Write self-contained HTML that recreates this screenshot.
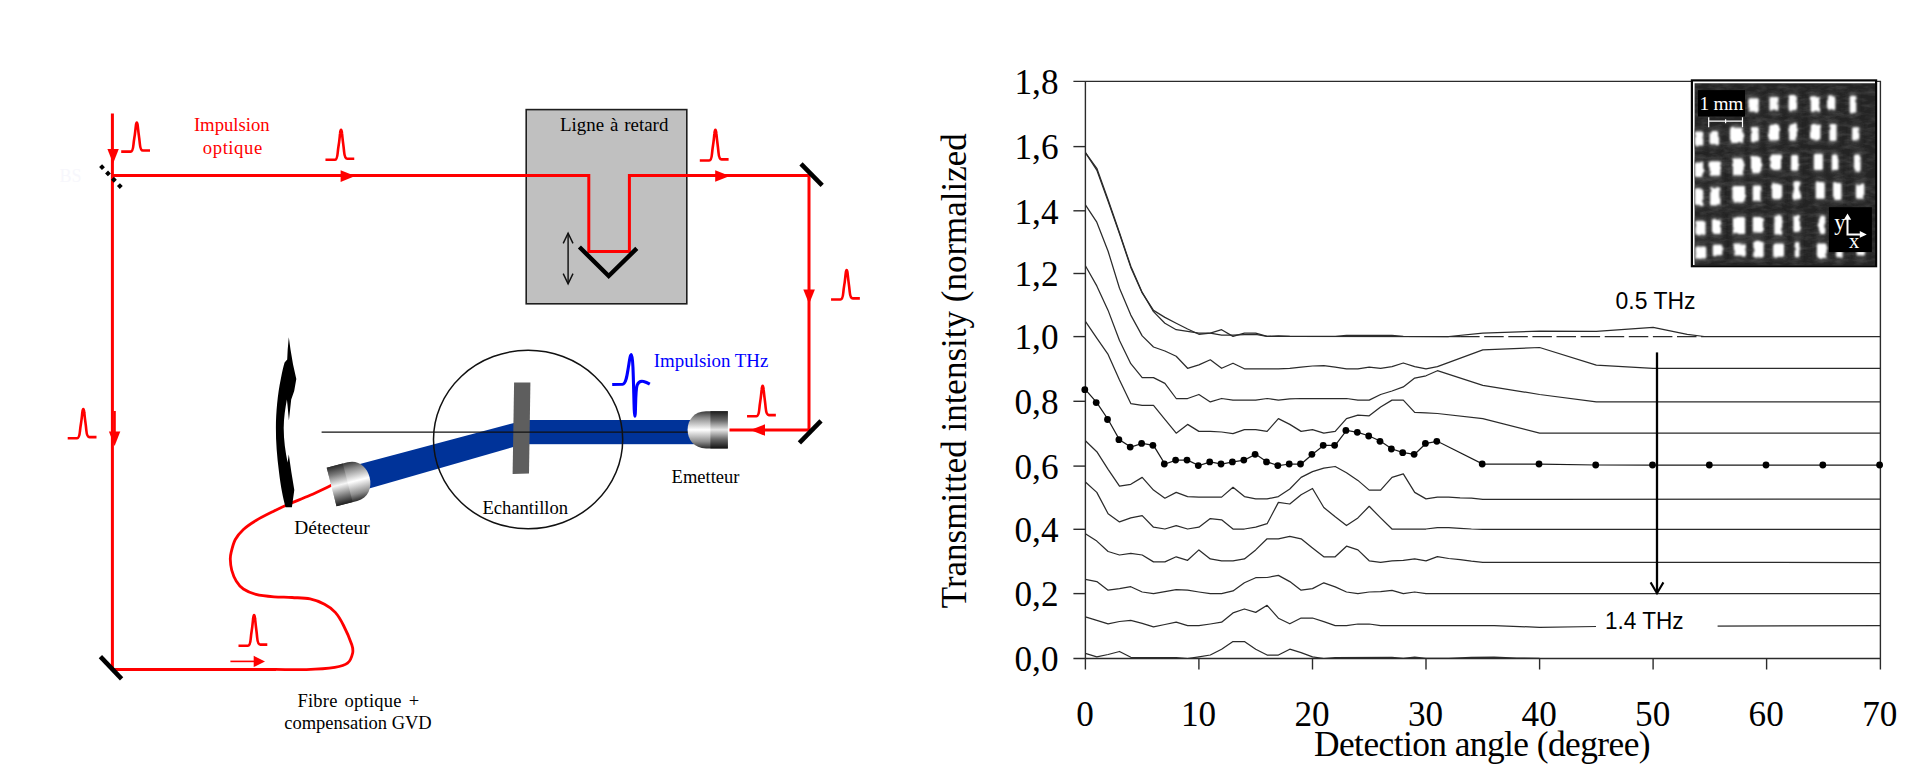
<!DOCTYPE html>
<html><head><meta charset="utf-8"><title>figure</title>
<style>
html,body{margin:0;padding:0;background:#fff;}
body{width:1920px;height:777px;overflow:hidden;}
svg{display:block;}
.ser{font-family:"Liberation Serif",serif;}
.sans{font-family:"Liberation Sans",sans-serif;}
</style></head><body>
<svg width="1920" height="777" viewBox="0 0 1920 777">
<rect width="1920" height="777" fill="#ffffff"/>
<!-- ================= LEFT DIAGRAM ================= -->
<defs>
  <linearGradient id="cylA" x1="0" y1="0" x2="0" y2="1">
    <stop offset="0" stop-color="#3a3a3a"/><stop offset="0.18" stop-color="#8c8c8c"/>
    <stop offset="0.5" stop-color="#ffffff"/><stop offset="0.82" stop-color="#8c8c8c"/>
    <stop offset="1" stop-color="#2e2e2e"/>
  </linearGradient>
  <linearGradient id="cylB" x1="0" y1="0" x2="0" y2="1">
    <stop offset="0" stop-color="#1c1c1c"/><stop offset="0.25" stop-color="#6a6a6a"/>
    <stop offset="0.5" stop-color="#e6e6e6"/><stop offset="0.75" stop-color="#6a6a6a"/>
    <stop offset="1" stop-color="#141414"/>
  </linearGradient>
  <linearGradient id="cylC" x1="0" y1="0" x2="0" y2="1">
    <stop offset="0" stop-color="#2a2a2a"/><stop offset="0.22" stop-color="#7a7a7a"/>
    <stop offset="0.5" stop-color="#f6f6f6"/><stop offset="0.78" stop-color="#7a7a7a"/>
    <stop offset="1" stop-color="#1e1e1e"/>
  </linearGradient>
  <filter id="soft" x="-5%" y="-5%" width="110%" height="110%"><feGaussianBlur stdDeviation="0.45"/></filter>
</defs>

<g>
<!-- delay line box -->
<rect x="526.2" y="109.6" width="160.6" height="194.2" fill="#c0c0c0" stroke="#1e1e1e" stroke-width="1.6"/>
<text x="560" y="130.9" class="ser" font-size="18.9" word-spacing="1.2">Ligne à retard</text>

<!-- red optical path -->
<g fill="none" stroke="#ff0000" stroke-width="3" stroke-linejoin="miter">
  <path d="M112.4,113.5 L112.4,669.4 L276,669.4"/>
  <path d="M112.4,175.6 L588.8,175.6 L588.8,251.4 L629.4,251.4 L629.4,175.6 L809,175.6 L809,430 L729.5,430"/>
  <path d="M333.0,484.6 C332.4,484.9 333.2,484.5 329.4,486.3 C325.6,488.1 316.9,492.3 310.1,495.3 C303.3,498.3 294.5,501.7 288.5,504.3 C282.5,506.9 279.5,508.3 274.1,511.0 C268.7,513.7 261.1,517.4 256.0,520.5 C250.9,523.6 246.8,526.3 243.4,529.5 C240.0,532.7 237.3,535.7 235.3,539.5 C233.3,543.3 232.0,548.8 231.2,552.1 C230.4,555.4 230.2,556.3 230.3,559.3 C230.4,562.3 230.7,566.5 231.7,570.1 C232.7,573.7 234.2,577.8 236.2,580.9 C238.1,584.0 240.1,586.8 243.4,589.0 C246.7,591.2 250.9,593.1 256.0,594.4 C261.1,595.7 268.1,596.3 274.1,596.8 C280.1,597.3 286.1,597.1 292.1,597.5 C298.1,597.9 304.7,597.8 310.1,598.9 C315.5,600.0 320.3,602.0 324.5,604.3 C328.7,606.5 332.2,608.9 335.3,612.4 C338.4,615.9 340.6,619.6 343.3,625.0 C346.1,630.4 350.2,640.1 351.8,644.8 C353.4,649.5 353.3,650.2 352.6,653.3 C351.9,656.4 350.5,660.9 347.5,663.2 C344.5,665.6 341.6,666.3 334.8,667.4 C328.0,668.5 316.4,669.3 306.5,669.6 C296.6,669.9 283.1,669.4 275.4,669.4 C267.6,669.4 262.6,669.4 260.0,669.4" stroke-width="2.8"/>
</g>
<!-- red arrow heads -->
<g fill="#ff0000">
  <path d="M107.4,148.9 L118.8,148.9 L113.1,163.5 Z"/>
  <path d="M340.6,170.3 L355.2,176.1 L340.6,181.9 Z"/>
  <path d="M715.2,170.2 L729.8,175.9 L715.2,181.7 Z"/>
  <path d="M803.3,289.5 L814.9,289.5 L809.1,304.1 Z"/>
  <path d="M765,424.3 L750.4,430 L765,435.8 Z"/>
  <path d="M108.9,431.4 L120.3,431.4 L114.6,446 Z"/>
  <rect x="113.5" y="411" width="2.3" height="21"/>
  <path d="M253.7,655.8 L265,661.4 L253.7,667.1 Z"/>
  <rect x="230.4" y="660.6" width="24" height="1.6"/>
</g>
<!-- red pulses -->
<g fill="none" stroke="#ff0000" stroke-width="2.6" stroke-linecap="butt" stroke-linejoin="round">
  <path d="M121.20,151.60 L130.60,151.60 C132.50,151.60 133.10,148.70 133.50,144.35 C133.90,140.00 134.50,137.10 134.90,134.20 C135.30,131.30 135.50,128.98 135.80,126.37 C136.00,124.05 136.30,122.60 136.80,122.60 C137.30,122.60 137.60,124.05 137.80,126.37 C138.10,128.98 138.30,131.30 138.70,134.20 C139.10,137.10 139.50,140.00 139.85,143.77 C140.20,147.83 141.00,150.50 143.00,150.50 L150.00,150.50"/>
  <path d="M325.45,159.80 L334.85,159.80 C336.75,159.80 337.35,156.80 337.75,152.30 C338.15,147.80 338.75,144.80 339.15,141.80 C339.55,138.80 339.75,136.40 340.05,133.70 C340.25,131.30 340.55,129.80 341.05,129.80 C341.55,129.80 341.85,131.30 342.05,133.70 C342.35,136.40 342.55,138.80 342.95,141.80 C343.35,144.80 343.75,147.80 344.10,151.70 C344.45,155.90 345.25,158.70 347.25,158.70 L354.25,158.70"/>
  <path d="M699.80,160.50 L709.20,160.50 C711.10,160.50 711.70,157.42 712.10,152.80 C712.50,148.18 713.10,145.10 713.50,142.02 C713.90,138.94 714.10,136.48 714.40,133.70 C714.60,131.24 714.90,129.70 715.40,129.70 C715.90,129.70 716.20,131.24 716.40,133.70 C716.70,136.48 716.90,138.94 717.30,142.02 C717.70,145.10 718.10,148.18 718.45,152.18 C718.80,156.50 719.60,159.40 721.60,159.40 L728.60,159.40"/>
  <path d="M831.05,299.50 L840.45,299.50 C842.35,299.50 842.95,296.55 843.35,292.12 C843.75,287.70 844.35,284.75 844.75,281.80 C845.15,278.85 845.35,276.49 845.65,273.83 C845.85,271.48 846.15,270.00 846.65,270.00 C847.15,270.00 847.45,271.48 847.65,273.83 C847.95,276.49 848.15,278.85 848.55,281.80 C848.95,284.75 849.35,287.70 849.70,291.54 C850.05,295.67 850.85,298.40 852.85,298.40 L859.85,298.40"/>
  <path d="M747.05,416.20 L756.45,416.20 C758.35,416.20 758.95,413.15 759.35,408.57 C759.75,404.00 760.35,400.95 760.75,397.90 C761.15,394.85 761.35,392.41 761.65,389.66 C761.85,387.22 762.15,385.70 762.65,385.70 C763.15,385.70 763.45,387.22 763.65,389.66 C763.95,392.41 764.15,394.85 764.55,397.90 C764.95,400.95 765.35,404.00 765.70,407.96 C766.05,412.24 766.85,415.10 768.85,415.10 L775.85,415.10"/>
  <path d="M67.70,438.20 L77.10,438.20 C79.00,438.20 79.60,435.27 80.00,430.89 C80.40,426.50 81.00,423.57 81.40,420.65 C81.80,417.72 82.00,415.38 82.30,412.75 C82.50,410.41 82.80,408.95 83.30,408.95 C83.80,408.95 84.10,410.41 84.30,412.75 C84.60,415.38 84.80,417.72 85.20,420.65 C85.60,423.57 86.00,426.50 86.35,430.30 C86.70,434.40 87.50,437.10 89.50,437.10 L96.50,437.10"/>
  <path d="M238.50,645.70 L247.90,645.70 C249.80,645.70 250.40,642.63 250.80,638.03 C251.20,633.42 251.80,630.35 252.20,627.28 C252.60,624.21 252.80,621.75 253.10,618.99 C253.30,616.54 253.60,615.00 254.10,615.00 C254.60,615.00 254.90,616.54 255.10,618.99 C255.40,621.75 255.60,624.21 256.00,627.28 C256.40,630.35 256.80,633.42 257.15,637.41 C257.50,641.71 258.30,644.60 260.30,644.60 L267.30,644.60"/>
</g>

<!-- mirrors -->
<g stroke="#000" stroke-width="4.6" fill="none">
  <path d="M801,163.9 L822.2,185.4"/>
  <path d="M799.4,442.8 L821,420.8"/>
  <path d="M100.4,656.6 L121.6,678.8"/>
  <path d="M579.4,247 L608.7,276 L636.8,248.4" stroke-width="4.4" stroke-linejoin="miter"/>
</g>
<!-- beam splitter (dotted) -->
<path d="M100.6,165.7 L121.6,187.9" stroke="#000" stroke-width="4.1" stroke-dasharray="4.1 4.55" fill="none"/>
<text x="59.5" y="181.8" class="ser" font-size="18" fill="#f7f7fc">BS</text>

<!-- delay double arrow -->
<g stroke="#111" stroke-width="1.45" fill="none">
  <path d="M568.1,233.4 L568.1,283.6"/>
  <path d="M563.2,243.4 L568.1,233.2 L573,243.4"/>
  <path d="M563.2,273.6 L568.1,283.8 L573,273.6"/>
</g>

<!-- THz beam -->
<g fill="#003399">
  <rect x="528" y="420" width="166" height="24.2"/>
  <path d="M516,422.4 L516,446.2 L364,490 L358,464.4 Z"/>
</g>
<!-- sample -->
<path d="M514.1,382.6 L530.4,382.6 L529,473.4 L512.6,474 Z" fill="#5e5e5e"/>
<!-- optical axis line -->
<path d="M321.6,432.2 L688,432.2" stroke="#111" stroke-width="1.3"/>
<!-- circle -->
<ellipse cx="528.1" cy="439.5" rx="94.6" ry="89.2" fill="none" stroke="#111" stroke-width="1.5"/>
<text x="482.4" y="513.8" class="ser" font-size="18.6">Echantillon</text>

<!-- emitter -->
<path d="M727.8,411.2 L706,411.2 C694,411.2 687.6,420 687.6,429.8 C687.6,439.6 694,448.4 706,448.4 L727.8,448.4 Z" fill="url(#cylA)"/>
<rect x="710.4" y="411.2" width="17.4" height="37.2" fill="url(#cylB)"/>
<text x="671.6" y="482.7" class="ser" font-size="18.5">Emetteur</text>

<!-- detector (rotated bullet) -->
<g transform="translate(351.4,481.9) rotate(-14.3)">
  <path d="M-20.4,-19.9 L1,-19.9 C12.4,-19.9 18.8,-10.6 18.8,0 C18.8,10.6 12.4,19.9 1,19.9 L-20.4,19.9 Z" fill="url(#cylA)"/>
  <rect x="-20.4" y="-19.9" width="16.6" height="39.8" fill="url(#cylC)"/>
</g>
<text x="294.3" y="534.1" class="ser" font-size="19.4">Détecteur</text>

<!-- curved black arrow -->
<path d="M288.8,337.2 L290.5,349.5 L293,364.2 L296.3,378.9 L294.2,391 L291.2,399.5 L288.9,420.6 L287.6,406 L286.9,399.6
 C285.4,408 283.7,418 283.7,428 C283.7,440 285.4,452 287.6,462.5 L288.8,454.4 L291.3,471.7 L294.3,490 L291.9,507.3 L285.6,507.3
 C283.2,499 280.6,486 279,472 C277,456 275.8,442 275.9,427.7 C276,412 277.6,394 280.8,378.9 C282.4,371 283.6,365.6 284.6,362.6 L287.2,359.6 L287.7,349.5 Z" fill="#000"/>
<!-- THz pulse -->
<path d="M612.2,384.5 L622.6,384.3 C626.2,384.1 627.4,373 628.5,366.5 C629.5,360.5 630.1,354.5 631.5,354.5 C633.7,354.5 633.7,416.3 634.8,416.3 C635.9,416.3 635.1,390.5 637.1,385.2 C638.5,381.6 641,380.9 643.6,381.5 C646,382.1 648,383.1 649.8,384.1" fill="none" stroke="#0000ff" stroke-width="3.1" stroke-linecap="butt" stroke-linejoin="round"/>
<text x="653.8" y="366.6" class="ser" font-size="18.9" fill="#0000ff">Impulsion THz</text>

<!-- text labels -->
<g fill="#ff0000" class="ser" font-size="18.7" text-anchor="middle">
  <text x="231.8" y="131.3">Impulsion</text>
  <text x="232.8" y="154.4" letter-spacing="0.55">optique</text>
</g>
<g class="ser" font-size="18.5" text-anchor="middle">
  <text x="358.4" y="706.5" word-spacing="2.2" letter-spacing="0.22">Fibre optique +</text>
  <text x="358" y="729.1">compensation GVD</text>
</g>
</g>

<g>
<path d="M1073.4,81.4 L1880.4,81.4 L1880.4,669.5 L1880.4,658.5 L1073.4,658.5" fill="none" stroke="#2b2b2b" stroke-width="1.4"/>
<path d="M1085.4,81.4 L1085.4,669.5" stroke="#2b2b2b" stroke-width="1.4"/>
<path d="M1073.4,593.6 L1085.4,593.6" stroke="#2b2b2b" stroke-width="1.4"/>
<path d="M1073.4,529.3 L1085.4,529.3" stroke="#2b2b2b" stroke-width="1.4"/>
<path d="M1073.4,466.1 L1085.4,466.1" stroke="#2b2b2b" stroke-width="1.4"/>
<path d="M1073.4,401.3 L1085.4,401.3" stroke="#2b2b2b" stroke-width="1.4"/>
<path d="M1073.4,336.6 L1085.4,336.6" stroke="#2b2b2b" stroke-width="1.4"/>
<path d="M1073.4,273.5 L1085.4,273.5" stroke="#2b2b2b" stroke-width="1.4"/>
<path d="M1073.4,210.8 L1085.4,210.8" stroke="#2b2b2b" stroke-width="1.4"/>
<path d="M1073.4,146.6 L1085.4,146.6" stroke="#2b2b2b" stroke-width="1.4"/>
<path d="M1198.9,658.5 L1198.9,669.5" stroke="#2b2b2b" stroke-width="1.4"/>
<path d="M1312.5,658.5 L1312.5,669.5" stroke="#2b2b2b" stroke-width="1.4"/>
<path d="M1426.0,658.5 L1426.0,669.5" stroke="#2b2b2b" stroke-width="1.4"/>
<path d="M1539.6,658.5 L1539.6,669.5" stroke="#2b2b2b" stroke-width="1.4"/>
<path d="M1653.1,658.5 L1653.1,669.5" stroke="#2b2b2b" stroke-width="1.4"/>
<path d="M1766.6,658.5 L1766.6,669.5" stroke="#2b2b2b" stroke-width="1.4"/>
<path d="M1085.4,152.7 L1096.8,170.1 L1108.1,201.4 L1119.5,233.8 L1130.8,267.4 L1142.2,292.9 L1153.5,310.4 L1164.9,317.4 L1176.2,323.2 L1187.6,329.0 L1198.9,334.3 L1210.3,333.1 L1221.6,329.7 L1233.0,336.4 L1244.4,333.1 L1255.7,333.1 L1267.1,336.4 L1278.4,335.9 L1289.8,336.4 L1448.7,336.5 L1482.8,333.1 L1539.6,331.2 L1596.3,331.4 L1653.1,327.3 L1687.2,334.3 L1704.2,336.5 L1880.2,336.5" fill="none" stroke="#2b2b2b" stroke-width="1.25" stroke-linejoin="round"/>
<path d="M1085.4,152.7 L1096.8,168.3 L1108.1,199.8 L1119.5,232.7 L1130.8,266.3 L1142.2,292.4 L1153.5,311.6 L1164.9,323.2 L1176.2,329.7 L1187.6,331.3 L1198.9,333.1 L1210.3,333.1 L1221.6,335.2 L1233.0,335.2 L1244.4,334.7 L1255.7,334.3 L1267.1,336.4 L1335.2,336.4 L1346.5,335.4 L1392.0,335.4 L1403.3,336.4 L1460.1,336.5" fill="none" stroke="#2b2b2b" stroke-width="1.25" stroke-linejoin="round"/>
<path d="M1085.4,204.9 L1096.8,222.2 L1108.1,251.2 L1119.5,288.3 L1130.8,315.1 L1142.2,335.9 L1153.5,347.0 L1164.9,351.0 L1176.2,356.3 L1187.6,368.3 L1198.9,364.9 L1210.3,359.8 L1221.6,368.3 L1233.0,363.2 L1244.4,368.8 L1255.7,368.8 L1267.1,368.8 L1278.4,368.8 L1289.8,368.3 L1301.1,367.2 L1312.5,366.0 L1323.8,365.6 L1335.2,367.2 L1346.5,368.8 L1357.9,368.8 L1369.2,367.2 L1380.6,368.3 L1392.0,366.7 L1403.3,363.0 L1414.7,366.7 L1426.0,368.8 L1437.4,366.7 L1482.8,349.8 L1539.6,347.5 L1596.3,365.1 L1653.1,368.4 L1880.2,368.4" fill="none" stroke="#2b2b2b" stroke-width="1.25" stroke-linejoin="round"/>
<path d="M1085.4,265.8 L1096.8,285.9 L1108.1,310.4 L1119.5,340.5 L1130.8,363.7 L1142.2,377.6 L1153.5,377.6 L1164.9,383.4 L1176.2,398.5 L1187.6,398.5 L1198.9,394.5 L1210.3,401.9 L1221.6,398.5 L1233.0,400.1 L1244.4,400.1 L1255.7,400.1 L1267.1,398.5 L1278.4,400.1 L1289.8,398.9 L1301.1,398.5 L1312.5,398.5 L1323.8,398.5 L1335.2,398.5 L1346.5,398.5 L1357.9,400.1 L1369.2,400.1 L1380.6,394.5 L1392.0,391.0 L1403.3,386.9 L1414.7,378.1 L1426.0,375.8 L1437.4,370.7 L1482.8,385.3 L1539.6,394.5 L1596.3,401.8 L1880.2,401.8" fill="none" stroke="#2b2b2b" stroke-width="1.25" stroke-linejoin="round"/>
<path d="M1085.4,321.3 L1096.8,338.2 L1108.1,354.4 L1119.5,379.9 L1130.8,403.6 L1142.2,405.4 L1153.5,405.4 L1164.9,419.3 L1176.2,433.2 L1187.6,424.4 L1198.9,431.4 L1210.3,431.4 L1221.6,432.0 L1233.0,433.7 L1244.4,429.7 L1255.7,429.7 L1267.1,431.4 L1278.4,418.6 L1289.8,424.4 L1301.1,431.4 L1312.5,429.7 L1323.8,433.2 L1335.2,431.4 L1346.5,418.6 L1357.9,415.1 L1369.2,415.8 L1380.6,407.0 L1392.0,400.1 L1403.3,400.1 L1414.7,412.4 L1426.0,412.8 L1437.4,413.5 L1482.8,418.6 L1539.6,433.2 L1880.2,433.0" fill="none" stroke="#2b2b2b" stroke-width="1.25" stroke-linejoin="round"/>
<path d="M1085.4,440.8 L1096.8,451.7 L1108.1,469.3 L1119.5,486.2 L1130.8,484.3 L1142.2,477.4 L1153.5,490.1 L1164.9,498.2 L1176.2,492.4 L1187.6,496.6 L1198.9,497.1 L1210.3,497.1 L1221.6,497.1 L1233.0,487.3 L1244.4,496.6 L1255.7,498.9 L1267.1,498.9 L1278.4,496.6 L1289.8,489.0 L1301.1,477.4 L1312.5,471.6 L1323.8,468.1 L1335.2,466.5 L1346.5,472.7 L1357.9,480.4 L1369.2,490.1 L1380.6,490.1 L1392.0,477.4 L1403.3,473.9 L1414.7,492.4 L1426.0,498.9 L1437.4,497.1 L1448.7,497.1 L1460.1,497.8 L1471.4,498.2 L1482.8,499.4 L1539.6,499.4 L1880.2,499.0" fill="none" stroke="#2b2b2b" stroke-width="1.25" stroke-linejoin="round"/>
<path d="M1085.4,482.0 L1096.8,492.4 L1108.1,513.7 L1119.5,521.9 L1130.8,517.9 L1142.2,515.6 L1153.5,527.2 L1164.9,529.0 L1176.2,525.6 L1187.6,529.0 L1198.9,527.2 L1210.3,518.6 L1221.6,519.8 L1233.0,529.0 L1244.4,529.0 L1255.7,527.2 L1267.1,523.7 L1278.4,502.4 L1289.8,504.0 L1301.1,494.7 L1312.5,488.5 L1323.8,507.5 L1335.2,516.8 L1346.5,525.6 L1357.9,517.9 L1369.2,506.3 L1380.6,517.9 L1392.0,529.0 L1403.3,529.0 L1414.7,529.0 L1426.0,529.0 L1437.4,527.6 L1448.7,527.6 L1460.1,528.3 L1471.4,529.0 L1482.8,529.3 L1539.6,529.3 L1880.2,529.4" fill="none" stroke="#2b2b2b" stroke-width="1.25" stroke-linejoin="round"/>
<path d="M1085.4,533.7 L1096.8,541.1 L1108.1,551.5 L1119.5,555.0 L1130.8,553.4 L1142.2,555.0 L1153.5,561.9 L1164.9,561.9 L1176.2,556.8 L1187.6,560.3 L1198.9,549.9 L1210.3,558.9 L1221.6,560.8 L1233.0,560.8 L1244.4,558.9 L1255.7,549.9 L1267.1,538.8 L1278.4,538.8 L1289.8,536.4 L1301.1,538.8 L1312.5,548.0 L1323.8,556.8 L1335.2,556.8 L1346.5,546.2 L1357.9,549.9 L1369.2,560.8 L1380.6,562.4 L1392.0,560.8 L1403.3,560.3 L1414.7,558.9 L1426.0,560.8 L1437.4,556.6 L1448.7,558.5 L1460.1,559.6 L1471.4,561.2 L1482.8,562.4 L1539.6,562.4 L1880.2,562.5" fill="none" stroke="#2b2b2b" stroke-width="1.25" stroke-linejoin="round"/>
<path d="M1085.4,579.3 L1096.8,581.6 L1108.1,590.2 L1119.5,588.6 L1130.8,586.7 L1142.2,592.0 L1153.5,593.7 L1164.9,591.6 L1176.2,589.7 L1187.6,590.2 L1198.9,592.0 L1210.3,593.7 L1221.6,593.7 L1233.0,590.9 L1244.4,582.8 L1255.7,577.7 L1267.1,577.5 L1278.4,575.4 L1289.8,581.6 L1301.1,590.2 L1312.5,588.6 L1323.8,582.8 L1335.2,586.9 L1346.5,592.0 L1357.9,593.7 L1369.2,592.0 L1380.6,591.6 L1392.0,590.4 L1403.3,593.7 L1414.7,592.0 L1426.0,593.7 L1437.4,593.7 L1539.6,593.7 L1880.2,593.5" fill="none" stroke="#2b2b2b" stroke-width="1.25" stroke-linejoin="round"/>
<path d="M1085.4,616.8 L1096.8,620.3 L1108.1,623.8 L1119.5,621.5 L1130.8,620.3 L1142.2,623.3 L1153.5,626.8 L1164.9,624.5 L1176.2,622.2 L1187.6,625.6 L1198.9,625.6 L1210.3,624.0 L1221.6,622.2 L1233.0,612.9 L1244.4,609.0 L1255.7,612.4 L1267.1,605.3 L1278.4,618.2 L1289.8,623.8 L1301.1,618.0 L1312.5,618.0 L1323.8,621.7 L1335.2,625.6 L1346.5,625.6 L1357.9,624.0 L1369.2,624.0 L1380.6,625.6 L1392.0,625.6 L1494.1,625.6 L1539.6,627.3 L1596.3,626.5 L1709.9,626.2 L1880.2,625.6" fill="none" stroke="#2b2b2b" stroke-width="1.25" stroke-linejoin="round"/>
<path d="M1085.4,653.4 L1096.8,656.8 L1108.1,654.5 L1119.5,651.5 L1130.8,657.3 L1142.2,657.5 L1176.2,657.5 L1187.6,658.5 L1198.9,656.8 L1210.3,655.0 L1221.6,649.2 L1233.0,641.5 L1244.4,641.5 L1255.7,649.2 L1267.1,655.0 L1278.4,655.0 L1289.8,649.2 L1301.1,652.7 L1312.5,656.8 L1323.8,658.5 L1335.2,657.6 L1392.0,657.4 L1403.3,658.3 L1414.7,657.2 L1426.0,658.3 L1448.7,658.4 L1471.4,657.4 L1494.1,657.2 L1516.9,658.0 L1539.6,658.4" fill="none" stroke="#2b2b2b" stroke-width="1.25" stroke-linejoin="round"/>
<path d="M1085.4,389.7 L1096.8,402.6 L1108.1,419.5 L1119.5,439.7 L1130.8,447.1 L1142.2,443.4 L1153.5,445.3 L1164.9,464.0 L1176.2,460.1 L1187.6,460.1 L1198.9,465.6 L1210.3,461.9 L1221.6,464.0 L1233.0,461.9 L1244.4,460.1 L1255.7,454.3 L1267.1,461.9 L1278.4,465.6 L1289.8,464.0 L1301.1,464.0 L1312.5,454.3 L1323.8,445.3 L1335.2,445.3 L1346.5,430.4 L1357.9,432.3 L1369.2,436.0 L1380.6,441.3 L1392.0,449.0 L1403.3,452.7 L1414.7,454.3 L1426.0,443.4 L1437.4,441.3 L1482.8,464.0 L1539.6,464.0 L1596.3,465.0 L1653.1,465.0 L1709.9,465.0 L1766.6,465.0 L1823.4,465.0 L1880.2,465.0" fill="none" stroke="#1a1a1a" stroke-width="1.25"/>
<circle cx="1084.8" cy="389.7" r="3.4" fill="#000"/>
<circle cx="1096.2" cy="402.6" r="3.4" fill="#000"/>
<circle cx="1107.5" cy="419.5" r="3.4" fill="#000"/>
<circle cx="1118.9" cy="439.7" r="3.4" fill="#000"/>
<circle cx="1130.2" cy="447.1" r="3.4" fill="#000"/>
<circle cx="1141.6" cy="443.4" r="3.4" fill="#000"/>
<circle cx="1152.9" cy="445.3" r="3.4" fill="#000"/>
<circle cx="1164.3" cy="464.0" r="3.4" fill="#000"/>
<circle cx="1175.6" cy="460.1" r="3.4" fill="#000"/>
<circle cx="1187.0" cy="460.1" r="3.4" fill="#000"/>
<circle cx="1198.3" cy="465.6" r="3.4" fill="#000"/>
<circle cx="1209.7" cy="461.9" r="3.4" fill="#000"/>
<circle cx="1221.0" cy="464.0" r="3.4" fill="#000"/>
<circle cx="1232.4" cy="461.9" r="3.4" fill="#000"/>
<circle cx="1243.8" cy="460.1" r="3.4" fill="#000"/>
<circle cx="1255.1" cy="454.3" r="3.4" fill="#000"/>
<circle cx="1266.5" cy="461.9" r="3.4" fill="#000"/>
<circle cx="1277.8" cy="465.6" r="3.4" fill="#000"/>
<circle cx="1289.2" cy="464.0" r="3.4" fill="#000"/>
<circle cx="1300.5" cy="464.0" r="3.4" fill="#000"/>
<circle cx="1311.9" cy="454.3" r="3.4" fill="#000"/>
<circle cx="1323.2" cy="445.3" r="3.4" fill="#000"/>
<circle cx="1334.6" cy="445.3" r="3.4" fill="#000"/>
<circle cx="1345.9" cy="430.4" r="3.4" fill="#000"/>
<circle cx="1357.3" cy="432.3" r="3.4" fill="#000"/>
<circle cx="1368.7" cy="436.0" r="3.4" fill="#000"/>
<circle cx="1380.0" cy="441.3" r="3.4" fill="#000"/>
<circle cx="1391.4" cy="449.0" r="3.4" fill="#000"/>
<circle cx="1402.7" cy="452.7" r="3.4" fill="#000"/>
<circle cx="1414.1" cy="454.3" r="3.4" fill="#000"/>
<circle cx="1425.4" cy="443.4" r="3.4" fill="#000"/>
<circle cx="1436.8" cy="441.3" r="3.4" fill="#000"/>
<circle cx="1482.2" cy="464.0" r="3.4" fill="#000"/>
<circle cx="1539.0" cy="464.0" r="3.4" fill="#000"/>
<circle cx="1595.7" cy="465.0" r="3.4" fill="#000"/>
<circle cx="1652.5" cy="465.0" r="3.4" fill="#000"/>
<circle cx="1709.3" cy="465.0" r="3.4" fill="#000"/>
<circle cx="1766.0" cy="465.0" r="3.4" fill="#000"/>
<circle cx="1822.8" cy="465.0" r="3.4" fill="#000"/>
<circle cx="1879.6" cy="465.0" r="3.4" fill="#000"/>
<path d="M1460.1,336.5 L1704.2,336.5" stroke="#2b2b2b" stroke-width="1.25" stroke-dasharray="19.5 4.6" fill="none"/>
<text x="1058.5" y="671.3" text-anchor="end" class="ser" font-size="35.2">0,0</text>
<text x="1058.5" y="606.4" text-anchor="end" class="ser" font-size="35.2">0,2</text>
<text x="1058.5" y="542.1" text-anchor="end" class="ser" font-size="35.2">0,4</text>
<text x="1058.5" y="478.9" text-anchor="end" class="ser" font-size="35.2">0,6</text>
<text x="1058.5" y="414.1" text-anchor="end" class="ser" font-size="35.2">0,8</text>
<text x="1058.5" y="349.4" text-anchor="end" class="ser" font-size="35.2">1,0</text>
<text x="1058.5" y="286.3" text-anchor="end" class="ser" font-size="35.2">1,2</text>
<text x="1058.5" y="223.6" text-anchor="end" class="ser" font-size="35.2">1,4</text>
<text x="1058.5" y="159.4" text-anchor="end" class="ser" font-size="35.2">1,6</text>
<text x="1058.5" y="94.2" text-anchor="end" class="ser" font-size="35.2">1,8</text>
<text x="1085.0" y="725.7" text-anchor="middle" class="ser" font-size="35.2">0</text>
<text x="1198.5" y="725.7" text-anchor="middle" class="ser" font-size="35.2">10</text>
<text x="1312.1" y="725.7" text-anchor="middle" class="ser" font-size="35.2">20</text>
<text x="1425.6" y="725.7" text-anchor="middle" class="ser" font-size="35.2">30</text>
<text x="1539.2" y="725.7" text-anchor="middle" class="ser" font-size="35.2">40</text>
<text x="1652.7" y="725.7" text-anchor="middle" class="ser" font-size="35.2">50</text>
<text x="1766.2" y="725.7" text-anchor="middle" class="ser" font-size="35.2">60</text>
<text x="1879.8" y="725.7" text-anchor="middle" class="ser" font-size="35.2">70</text>
</g>
<!-- ================= INSET IMAGE ================= -->
<defs>
  <filter id="blur1" filterUnits="userSpaceOnUse" x="1690" y="78" width="190" height="192">
    <feTurbulence type="fractalNoise" baseFrequency="0.13" numOctaves="2" seed="7" result="n"/>
    <feDisplacementMap in="SourceGraphic" in2="n" scale="3.2" xChannelSelector="R" yChannelSelector="G" result="d"/>
    <feGaussianBlur in="d" stdDeviation="1.0"/>
  </filter>
  <filter id="tex" filterUnits="userSpaceOnUse" x="1690" y="78" width="190" height="192">
    <feTurbulence type="fractalNoise" baseFrequency="0.09 0.22" numOctaves="3" seed="11" result="n"/>
    <feColorMatrix in="n" type="matrix" values="0 0 0 0 1  0 0 0 0 1  0 0 0 0 1  1.6 0 0 0 -0.62"/>
  </filter>
  <filter id="blur3" x="-10%" y="-10%" width="120%" height="120%"><feGaussianBlur stdDeviation="2.2"/></filter>
  <clipPath id="insclip"><rect x="1694.6" y="83.2" width="180.6" height="182"/></clipPath>
</defs>
<rect x="1691.9" y="80.4" width="184.2" height="185.8" fill="#fff" stroke="#050505" stroke-width="2.2"/>
<g clip-path="url(#insclip)">
  <rect x="1693.4" y="81.6" width="182" height="183.4" fill="#242424"/>
  <g id="weave" filter="url(#blur3)"><rect x="1747.2" y="94.4" width="12.9" height="21.0" fill="#3c3c3c"/><rect x="1768.2" y="93.2" width="11.6" height="21.5" fill="#3c3c3c"/><rect x="1787.3" y="91.3" width="11.0" height="22.8" fill="#3c3c3c"/><rect x="1809.5" y="92.5" width="11.1" height="23.5" fill="#3c3c3c"/><rect x="1826.8" y="92.5" width="9.8" height="21.6" fill="#3c3c3c"/><rect x="1848.5" y="91.9" width="9.1" height="24.7" fill="#3c3c3c"/><rect x="1693.4" y="127.7" width="11.1" height="21.6" fill="#3c3c3c"/><rect x="1708.3" y="127.1" width="12.2" height="21.0" fill="#3c3c3c"/><rect x="1728.7" y="124.0" width="15.9" height="22.9" fill="#3c3c3c"/><rect x="1749.7" y="122.2" width="10.4" height="24.0" fill="#3c3c3c"/><rect x="1767.6" y="120.9" width="12.9" height="23.5" fill="#3c3c3c"/><rect x="1787.9" y="120.3" width="10.4" height="24.1" fill="#3c3c3c"/><rect x="1809.5" y="120.9" width="12.3" height="22.3" fill="#3c3c3c"/><rect x="1828.1" y="120.3" width="9.8" height="24.7" fill="#3c3c3c"/><rect x="1850.9" y="123.4" width="9.8" height="21.0" fill="#3c3c3c"/><rect x="1693.4" y="158.6" width="11.1" height="22.3" fill="#3c3c3c"/><rect x="1708.3" y="157.4" width="13.5" height="22.3" fill="#3c3c3c"/><rect x="1731.7" y="154.3" width="13.5" height="24.8" fill="#3c3c3c"/><rect x="1749.7" y="152.5" width="12.8" height="24.6" fill="#3c3c3c"/><rect x="1769.4" y="150.6" width="12.9" height="23.4" fill="#3c3c3c"/><rect x="1789.8" y="151.2" width="9.8" height="23.5" fill="#3c3c3c"/><rect x="1812.6" y="150.0" width="11.7" height="24.0" fill="#3c3c3c"/><rect x="1830.5" y="150.6" width="9.2" height="23.4" fill="#3c3c3c"/><rect x="1852.8" y="150.6" width="9.2" height="24.7" fill="#3c3c3c"/><rect x="1693.4" y="185.3" width="11.1" height="23.4" fill="#3c3c3c"/><rect x="1708.9" y="183.4" width="12.9" height="26.0" fill="#3c3c3c"/><rect x="1731.1" y="182.2" width="15.4" height="24.1" fill="#3c3c3c"/><rect x="1751.5" y="181.6" width="10.4" height="24.1" fill="#3c3c3c"/><rect x="1770.7" y="179.7" width="12.8" height="23.5" fill="#3c3c3c"/><rect x="1792.2" y="177.3" width="9.2" height="25.9" fill="#3c3c3c"/><rect x="1814.5" y="177.3" width="11.6" height="25.3" fill="#3c3c3c"/><rect x="1831.8" y="179.1" width="11.0" height="24.7" fill="#3c3c3c"/><rect x="1854.6" y="180.4" width="11.1" height="22.2" fill="#3c3c3c"/><rect x="1694.1" y="216.8" width="12.8" height="22.2" fill="#3c3c3c"/><rect x="1710.7" y="216.2" width="11.7" height="21.6" fill="#3c3c3c"/><rect x="1731.7" y="213.1" width="14.8" height="24.7" fill="#3c3c3c"/><rect x="1751.5" y="213.1" width="12.9" height="23.4" fill="#3c3c3c"/><rect x="1773.1" y="211.9" width="10.4" height="26.5" fill="#3c3c3c"/><rect x="1792.2" y="211.2" width="9.2" height="24.7" fill="#3c3c3c"/><rect x="1817.6" y="211.9" width="9.1" height="25.9" fill="#3c3c3c"/><rect x="1694.1" y="242.7" width="13.5" height="19.8" fill="#3c3c3c"/><rect x="1711.4" y="240.9" width="12.2" height="19.1" fill="#3c3c3c"/><rect x="1732.4" y="239.7" width="14.7" height="19.7" fill="#3c3c3c"/><rect x="1752.1" y="237.8" width="12.9" height="23.4" fill="#3c3c3c"/><rect x="1771.9" y="239.7" width="13.5" height="20.9" fill="#3c3c3c"/><rect x="1793.5" y="237.2" width="7.3" height="24.0" fill="#3c3c3c"/><rect x="1815.7" y="239.7" width="12.3" height="22.2" fill="#3c3c3c"/><rect x="1834.9" y="242.0" width="9.1" height="19.2" fill="#3c3c3c"/><rect x="1855.2" y="242.0" width="11.1" height="17.4" fill="#3c3c3c"/></g>
  <rect x="1693.4" y="81.6" width="182" height="183.4" filter="url(#tex)" opacity="0.14"/>
  <g id="holes" filter="url(#blur1)" fill="#fff"><rect x="1748.5" y="98.2" width="10.2" height="13.3" rx="1.6" opacity="1.00"/><rect x="1769.5" y="97.0" width="8.9" height="13.8" rx="1.6" opacity="0.98"/><rect x="1788.6" y="95.1" width="8.3" height="15.1" rx="1.6" opacity="1.00"/><rect x="1810.8" y="96.3" width="8.4" height="15.8" rx="1.6" opacity="1.00"/><rect x="1828.1" y="96.3" width="7.1" height="13.9" rx="1.6" opacity="1.00"/><rect x="1849.8" y="95.8" width="6.4" height="17.0" rx="1.6" opacity="0.99"/><rect x="1694.8" y="131.5" width="8.4" height="13.9" rx="1.6" opacity="1.00"/><rect x="1709.6" y="130.9" width="9.5" height="13.3" rx="1.6" opacity="0.98"/><rect x="1730.0" y="127.8" width="13.2" height="15.2" rx="1.6" opacity="1.00"/><rect x="1751.0" y="126.0" width="7.7" height="16.3" rx="1.6" opacity="0.99"/><rect x="1768.9" y="124.8" width="10.2" height="15.8" rx="1.6" opacity="1.00"/><rect x="1789.2" y="124.1" width="7.7" height="16.4" rx="1.6" opacity="0.99"/><rect x="1810.8" y="124.8" width="9.6" height="14.6" rx="1.6" opacity="1.00"/><rect x="1829.4" y="124.1" width="7.1" height="17.0" rx="1.6" opacity="0.99"/><rect x="1852.2" y="127.2" width="7.1" height="13.3" rx="1.6" opacity="0.99"/><rect x="1694.8" y="162.4" width="8.4" height="14.6" rx="1.6" opacity="1.00"/><rect x="1709.6" y="161.2" width="10.8" height="14.6" rx="1.6" opacity="1.00"/><rect x="1733.0" y="158.2" width="10.8" height="17.1" rx="1.6" opacity="0.99"/><rect x="1751.0" y="156.3" width="10.1" height="16.9" rx="1.6" opacity="1.00"/><rect x="1770.8" y="154.4" width="10.2" height="15.7" rx="1.6" opacity="1.00"/><rect x="1791.1" y="155.0" width="7.1" height="15.8" rx="1.6" opacity="1.00"/><rect x="1813.9" y="153.8" width="9.0" height="16.3" rx="1.6" opacity="1.00"/><rect x="1831.8" y="154.4" width="6.5" height="15.7" rx="1.6" opacity="1.00"/><rect x="1854.1" y="154.4" width="6.5" height="17.0" rx="1.6" opacity="1.00"/><rect x="1694.8" y="189.2" width="8.4" height="15.7" rx="1.6" opacity="1.00"/><rect x="1710.2" y="187.2" width="10.2" height="18.3" rx="1.6" opacity="1.00"/><rect x="1732.4" y="186.0" width="12.7" height="16.4" rx="1.6" opacity="1.00"/><rect x="1752.8" y="185.4" width="7.7" height="16.4" rx="1.6" opacity="1.00"/><rect x="1772.0" y="183.5" width="10.1" height="15.8" rx="1.6" opacity="0.99"/><rect x="1793.5" y="181.2" width="6.5" height="18.2" rx="1.6" opacity="1.00"/><rect x="1815.8" y="181.2" width="8.9" height="17.6" rx="1.6" opacity="1.00"/><rect x="1833.1" y="182.9" width="8.3" height="17.0" rx="1.6" opacity="1.00"/><rect x="1855.9" y="184.2" width="8.4" height="14.5" rx="1.6" opacity="1.00"/><rect x="1695.4" y="220.7" width="10.1" height="14.5" rx="1.6" opacity="1.00"/><rect x="1712.0" y="220.0" width="9.0" height="13.9" rx="1.6" opacity="1.00"/><rect x="1733.0" y="216.9" width="12.1" height="17.0" rx="1.6" opacity="1.00"/><rect x="1752.8" y="216.9" width="10.2" height="15.7" rx="1.6" opacity="1.00"/><rect x="1774.4" y="215.8" width="7.7" height="18.8" rx="1.6" opacity="1.00"/><rect x="1793.5" y="215.0" width="6.5" height="17.0" rx="1.6" opacity="1.00"/><rect x="1818.9" y="215.8" width="6.4" height="18.2" rx="1.6" opacity="1.00"/><rect x="1695.4" y="246.5" width="10.8" height="12.1" rx="1.6" opacity="1.00"/><rect x="1712.8" y="244.8" width="9.5" height="11.4" rx="1.6" opacity="1.00"/><rect x="1733.8" y="243.5" width="12.0" height="12.0" rx="1.6" opacity="1.00"/><rect x="1753.4" y="241.7" width="10.2" height="15.7" rx="1.6" opacity="1.00"/><rect x="1773.2" y="243.5" width="10.8" height="13.2" rx="1.6" opacity="1.00"/><rect x="1794.8" y="241.0" width="4.6" height="16.3" rx="1.6" opacity="0.98"/><rect x="1817.0" y="243.5" width="9.6" height="14.5" rx="1.6" opacity="1.00"/><rect x="1836.2" y="245.8" width="6.4" height="11.5" rx="1.6" opacity="1.00"/><rect x="1856.5" y="245.8" width="8.4" height="9.7" rx="1.6" opacity="1.00"/></g>
</g>
<rect x="1698" y="90.1" width="47" height="26.4" fill="#000"/>
<text x="1699.4" y="109.6" class="ser" font-size="19.4" fill="#fff" textLength="44" lengthAdjust="spacing">1 mm</text>
<path d="M1708.3,121.2 L1742.9,121.2 M1708.7,117.3 L1708.7,127.2 M1742.5,117.3 L1742.5,127.2 M1725.6,119.2 L1725.6,123.2" stroke="#fff" stroke-width="1.2" fill="none"/>
<rect x="1828.9" y="207.2" width="43" height="44.9" fill="#000"/>
<text x="1834.2" y="230.2" class="ser" font-size="22.5" fill="#fff">y</text>
<text x="1849" y="247.6" class="ser" font-size="20.5" fill="#fff">x</text>
<path d="M1847.5,216 L1847.5,234.4 L1862,234.4" stroke="#fff" stroke-width="2" fill="none"/>
<path d="M1843.8,219.8 L1847.5,213.6 L1851.2,219.8 Z M1859.8,231.1 L1866.8,234.4 L1859.8,237.7 Z" fill="#fff"/>

<!-- chart annotations -->
<g>
<path d="M1657,352.4 L1657,592.6" stroke="#000" stroke-width="2.3" fill="none"/>
<path d="M1650.6,582.4 L1657,593.2 L1663.4,582.4" stroke="#000" stroke-width="2.1" fill="none" stroke-linejoin="miter"/>
<rect x="1596" y="606" width="121.6" height="28" fill="#fff"/>
<text x="1615.6" y="309.4" class="sans" font-size="23.8" textLength="80" lengthAdjust="spacingAndGlyphs">0.5 THz</text>
<text x="1605" y="629" class="sans" font-size="23.8" textLength="78.6" lengthAdjust="spacingAndGlyphs">1.4 THz</text>
<text x="1314" y="755.6" class="ser" font-size="35.4" textLength="336.6" lengthAdjust="spacing">Detection angle (degree)</text>
<text transform="translate(965.8,370.7) rotate(-90)" text-anchor="middle" class="ser" font-size="35">Transmitted intensity (normalized</text>
</g>

</svg>
</body></html>
